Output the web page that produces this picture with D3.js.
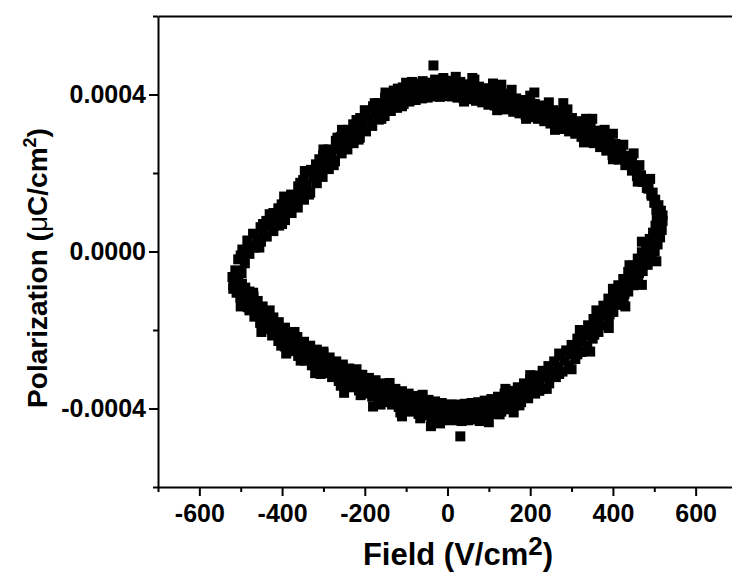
<!DOCTYPE html>
<html>
<head>
<meta charset="utf-8">
<script src="https://cdn.jsdelivr.net/npm/d3@7"></script>
<style>
  html, body { margin: 0; padding: 0; background: #fff; }
  svg { display: block; }
  text { font-family: "Liberation Sans", Arial, sans-serif; font-weight: bold; fill: #000; }
</style>
</head>
<body>
<div id="chart"></div>
<script>
const width = 732;
const height = 575;

// axis ticks
const fieldTicks = [-600, -400, -200, 0, 200, 400, 600];
const fieldMinorTicks = [-700, -500, -300, -100, 100, 300, 500, 700];
const polTicks = [-0.0004, 0, 0.0004];
const polMinorTicks = [-0.0006, -0.0002, 0.0002, 0.0006];

const upperLeft = [
  [-518, -0.85e-4], [-506, -0.72e-4], [-520, -0.65e-4],
  [-513, -0.48e-4], [-498, -0.55e-4], [-506, -0.5e-4],
  [-506, -0.2e-4], [-490, -0.3e-4], [-500, -0.1e-4],
  [-496, 0.05e-4], [-479, -0.06e-4], [-487, 0.0e-4],
  [-484, 0.28e-4], [-467, 0.1e-4], [-476, 0.15e-4],
  [-469, 0.45e-4], [-451, 0.25e-4], [-460, 0.35e-4],
  [-452, 0.62e-4], [-437, 0.38e-4], [-446, 0.7e-4], [-445, 0.5e-4],
  [-438, 0.78e-4], [-421, 0.52e-4], [-430, 0.65e-4],
  [-421, 0.98e-4], [-407, 0.66e-4], [-415, 0.8e-4],
  [-409, 1.1e-4], [-393, 0.8e-4], [-401, 1.2e-4], [-400, 0.95e-4],
  [-390, 1.3e-4], [-377, 0.98e-4], [-385, 1.12e-4],
  [-378, 1.45e-4], [-362, 1.12e-4], [-370, 1.3e-4],
  [-361, 1.66e-4], [-347, 1.32e-4], [-356, 1.75e-4], [-355, 1.48e-4],
  [-349, 1.82e-4], [-332, 1.5e-4], [-340, 1.68e-4],
  [-330, 2.08e-4], [-316, 1.74e-4], [-325, 1.88e-4],
  [-318, 2.22e-4], [-302, 1.9e-4], [-310, 2.35e-4], [-310, 2.08e-4],
  [-301, 2.45e-4], [-287, 2.1e-4], [-295, 2.28e-4],
  [-288, 2.6e-4], [-272, 2.3e-4], [-280, 2.45e-4],
  [-270, 2.82e-4], [-256, 2.5e-4], [-266, 2.9e-4], [-265, 2.62e-4],
  [-258, 2.92e-4], [-242, 2.6e-4], [-250, 2.78e-4],
  [-241, 3.1e-4], [-227, 2.76e-4], [-235, 2.93e-4],
  [-228, 3.24e-4], [-212, 2.9e-4], [-220, 3.35e-4], [-220, 3.08e-4],
  [-211, 3.4e-4], [-197, 3.06e-4], [-205, 3.22e-4],
  [-198, 3.5e-4], [-182, 3.2e-4], [-190, 3.36e-4],
  [-180, 3.7e-4], [-166, 3.36e-4], [-176, 3.78e-4], [-175, 3.5e-4],
  [-168, 3.78e-4], [-152, 3.45e-4], [-160, 3.62e-4],
  [-151, 3.92e-4], [-137, 3.58e-4], [-145, 3.74e-4],
  [-138, 4.02e-4], [-122, 3.66e-4], [-130, 4.1e-4], [-130, 3.85e-4],
  [-120, 4.15e-4], [-106, 3.76e-4], [-115, 3.94e-4],
  [-108, 4.18e-4], [-92, 3.82e-4], [-100, 4.0e-4],
  [-91, 4.25e-4], [-77, 3.86e-4], [-86, 4.32e-4], [-85, 4.05e-4],
  [-78, 4.28e-4], [-62, 3.9e-4], [-70, 4.1e-4],
  [-60, 4.34e-4], [-48, 3.92e-4], [-55, 4.12e-4],
  [-34, 4.74e-4], [-44, 4.3e-4], [-36, 3.95e-4], [-40, 4.12e-4],
  [-30, 4.38e-4], [-18, 3.94e-4], [-25, 4.15e-4],
  [-15, 4.3e-4], [-5, 3.96e-4], [-10, 4.42e-4], [-10, 4.15e-4]
];

const upperRight = [
  [0, 4.35e-4], [10, 3.95e-4], [5, 4.15e-4],
  [16, 4.28e-4], [24, 3.92e-4], [20, 4.45e-4], [20, 4.12e-4],
  [31, 4.32e-4], [39, 3.9e-4], [35, 4.12e-4],
  [46, 4.26e-4], [54, 3.88e-4], [50, 4.08e-4],
  [61, 4.24e-4], [69, 3.84e-4], [65, 4.38e-4], [65, 4.04e-4],
  [76, 4.2e-4], [84, 3.8e-4], [80, 4.0e-4],
  [91, 4.16e-4], [99, 3.74e-4], [95, 3.96e-4],
  [106, 4.1e-4], [114, 3.72e-4], [110, 4.28e-4], [110, 3.92e-4],
  [121, 4.08e-4], [129, 3.66e-4], [125, 3.87e-4],
  [136, 4.02e-4], [144, 3.62e-4], [140, 3.82e-4],
  [151, 3.98e-4], [159, 3.56e-4], [155, 4.12e-4], [155, 3.77e-4],
  [166, 3.9e-4], [174, 3.52e-4], [170, 3.72e-4],
  [181, 3.86e-4], [189, 3.48e-4], [185, 3.67e-4],
  [196, 3.82e-4], [204, 3.42e-4], [200, 3.97e-4], [200, 3.62e-4],
  [211, 3.76e-4], [219, 3.38e-4], [215, 3.57e-4],
  [226, 3.72e-4], [234, 3.32e-4], [230, 3.52e-4],
  [241, 3.66e-4], [249, 3.26e-4], [245, 3.8e-4], [245, 3.46e-4],
  [256, 3.6e-4], [264, 3.2e-4], [260, 3.4e-4],
  [271, 3.54e-4], [279, 3.12e-4], [275, 3.34e-4],
  [286, 3.48e-4], [294, 3.06e-4], [290, 3.62e-4], [290, 3.27e-4],
  [301, 3.4e-4], [309, 3.0e-4], [305, 3.2e-4],
  [316, 3.32e-4], [324, 2.92e-4], [320, 3.12e-4],
  [331, 3.25e-4], [339, 2.84e-4], [335, 3.38e-4], [335, 3.04e-4],
  [346, 3.16e-4], [354, 2.76e-4], [350, 2.96e-4],
  [361, 3.08e-4], [369, 2.66e-4], [365, 2.87e-4],
  [376, 2.97e-4], [384, 2.57e-4], [380, 3.1e-4], [380, 2.77e-4],
  [391, 2.86e-4], [399, 2.46e-4], [395, 2.66e-4],
  [406, 2.74e-4], [414, 2.34e-4], [410, 2.54e-4],
  [420, 2.6e-4], [430, 2.2e-4], [425, 2.72e-4], [425, 2.4e-4],
  [434, 2.44e-4], [446, 2.06e-4], [440, 2.25e-4],
  [446, 2.28e-4], [458, 1.92e-4], [452, 2.1e-4],
  [457, 2.1e-4], [471, 1.78e-4], [464, 2.2e-4], [464, 1.94e-4],
  [468, 1.94e-4], [482, 1.62e-4], [475, 1.78e-4],
  [477, 1.78e-4], [493, 1.46e-4], [485, 1.62e-4],
  [486, 1.6e-4], [502, 1.32e-4], [496, 1.5e-4], [494, 1.46e-4],
  [494, 1.42e-4], [510, 1.18e-4], [502, 1.3e-4],
  [500, 1.24e-4], [516, 1.04e-4], [508, 1.14e-4],
  [505, 1.06e-4], [520, 0.92e-4], [512, 0.98e-4]
];

const lowerRight = [
  [520, 0.78e-4], [506, 0.82e-4], [513, 0.8e-4],
  [518, 0.55e-4], [503, 0.66e-4], [512, 0.5e-4], [510, 0.6e-4],
  [514, 0.36e-4], [497, 0.48e-4], [505, 0.42e-4],
  [508, 0.18e-4], [489, 0.32e-4], [498, 0.25e-4],
  [501, 0.0e-4], [480, 0.15e-4], [492, -0.02e-4], [490, 0.08e-4],
  [493, -0.16e-4], [470, -0.02e-4], [481, -0.09e-4],
  [484, -0.34e-4], [460, -0.18e-4], [471, -0.26e-4],
  [472, -0.5e-4], [448, -0.36e-4], [463, -0.55e-4], [460, -0.43e-4],
  [461, -0.68e-4], [437, -0.52e-4], [449, -0.6e-4],
  [450, -0.86e-4], [425, -0.7e-4], [437, -0.77e-4],
  [437, -1.02e-4], [413, -0.86e-4], [428, -1.08e-4], [425, -0.94e-4],
  [426, -1.2e-4], [401, -1.04e-4], [413, -1.11e-4],
  [414, -1.36e-4], [389, -1.2e-4], [401, -1.28e-4],
  [401, -1.54e-4], [377, -1.38e-4], [392, -1.6e-4], [389, -1.45e-4],
  [390, -1.7e-4], [365, -1.54e-4], [377, -1.62e-4],
  [377, -1.88e-4], [353, -1.72e-4], [365, -1.79e-4],
  [365, -2.05e-4], [340, -1.88e-4], [355, -2.12e-4], [352, -1.96e-4],
  [351, -2.22e-4], [327, -2.06e-4], [339, -2.13e-4],
  [338, -2.4e-4], [314, -2.22e-4], [326, -2.3e-4],
  [324, -2.56e-4], [300, -2.38e-4], [314, -2.62e-4], [312, -2.46e-4],
  [309, -2.74e-4], [287, -2.52e-4], [298, -2.62e-4],
  [293, -2.9e-4], [273, -2.66e-4], [283, -2.78e-4],
  [278, -3.06e-4], [258, -2.8e-4], [270, -3.12e-4], [268, -2.93e-4],
  [262, -3.2e-4], [244, -2.92e-4], [253, -3.07e-4],
  [246, -3.36e-4], [230, -3.04e-4], [238, -3.2e-4],
  [229, -3.5e-4], [215, -3.16e-4], [222, -3.55e-4], [222, -3.32e-4],
  [212, -3.62e-4], [200, -3.26e-4], [206, -3.44e-4],
  [195, -3.74e-4], [185, -3.36e-4], [190, -3.55e-4],
  [178, -3.84e-4], [170, -3.46e-4], [174, -3.92e-4], [174, -3.65e-4],
  [162, -3.92e-4], [154, -3.55e-4], [158, -3.74e-4],
  [146, -4.02e-4], [138, -3.62e-4], [142, -3.82e-4],
  [130, -4.08e-4], [122, -3.7e-4], [126, -4.15e-4], [126, -3.89e-4],
  [114, -4.14e-4], [106, -3.76e-4], [110, -3.95e-4],
  [98, -4.2e-4], [90, -3.8e-4], [94, -4.0e-4],
  [82, -4.24e-4], [74, -3.84e-4], [78, -4.32e-4], [78, -4.04e-4],
  [66, -4.28e-4], [58, -3.86e-4], [62, -4.07e-4],
  [50, -4.3e-4], [42, -3.88e-4], [46, -4.09e-4],
  [31, -4.71e-4], [34, -4.32e-4], [26, -3.9e-4], [30, -4.12e-4],
  [18, -4.3e-4], [10, -3.9e-4], [14, -4.1e-4]
];

const lowerLeft = [
  [-6, -4.3e-4], [2, -3.9e-4], [-2, -4.09e-4],
  [-22, -4.26e-4], [-14, -3.86e-4], [-18, -4.38e-4], [-18, -4.06e-4],
  [-38, -4.22e-4], [-30, -3.82e-4], [-34, -4.02e-4],
  [-54, -4.18e-4], [-46, -3.78e-4], [-50, -3.98e-4],
  [-70, -4.14e-4], [-62, -3.72e-4], [-66, -4.25e-4], [-66, -3.93e-4],
  [-86, -4.08e-4], [-78, -3.68e-4], [-82, -3.88e-4],
  [-102, -4.02e-4], [-94, -3.62e-4], [-98, -3.82e-4],
  [-118, -3.96e-4], [-110, -3.56e-4], [-114, -4.1e-4], [-114, -3.76e-4],
  [-134, -3.9e-4], [-126, -3.5e-4], [-130, -3.7e-4],
  [-150, -3.84e-4], [-142, -3.42e-4], [-146, -3.63e-4],
  [-166, -3.76e-4], [-158, -3.36e-4], [-162, -3.9e-4], [-162, -3.56e-4],
  [-182, -3.7e-4], [-174, -3.28e-4], [-178, -3.49e-4],
  [-198, -3.62e-4], [-190, -3.22e-4], [-194, -3.42e-4],
  [-214, -3.54e-4], [-206, -3.14e-4], [-210, -3.66e-4], [-210, -3.34e-4],
  [-230, -3.46e-4], [-222, -3.06e-4], [-226, -3.26e-4],
  [-246, -3.38e-4], [-238, -2.98e-4], [-242, -3.18e-4],
  [-263, -3.3e-4], [-253, -2.88e-4], [-258, -3.42e-4], [-258, -3.09e-4],
  [-279, -3.2e-4], [-269, -2.8e-4], [-274, -3.0e-4],
  [-295, -3.1e-4], [-285, -2.7e-4], [-290, -2.9e-4],
  [-312, -3.0e-4], [-300, -2.6e-4], [-307, -3.12e-4], [-306, -2.8e-4],
  [-328, -2.9e-4], [-316, -2.5e-4], [-322, -2.7e-4],
  [-344, -2.78e-4], [-332, -2.4e-4], [-338, -2.59e-4],
  [-361, -2.66e-4], [-347, -2.3e-4], [-355, -2.78e-4], [-354, -2.48e-4],
  [-377, -2.54e-4], [-363, -2.18e-4], [-370, -2.36e-4],
  [-393, -2.42e-4], [-379, -2.06e-4], [-386, -2.24e-4],
  [-409, -2.28e-4], [-393, -1.94e-4], [-402, -2.4e-4], [-401, -2.11e-4],
  [-424, -2.14e-4], [-408, -1.8e-4], [-416, -1.97e-4],
  [-439, -1.98e-4], [-421, -1.68e-4], [-430, -1.83e-4],
  [-453, -1.82e-4], [-435, -1.54e-4], [-446, -1.95e-4], [-444, -1.68e-4],
  [-467, -1.66e-4], [-447, -1.4e-4], [-457, -1.53e-4],
  [-479, -1.5e-4], [-459, -1.26e-4], [-469, -1.38e-4],
  [-491, -1.34e-4], [-469, -1.14e-4], [-483, -1.42e-4], [-480, -1.24e-4],
  [-501, -1.18e-4], [-479, -1.02e-4], [-490, -1.1e-4],
  [-510, -1.05e-4], [-489, -0.92e-4], [-499, -0.98e-4],
  [-518, -0.95e-4], [-497, -0.82e-4], [-507, -0.88e-4]
];

// scattered points sticking out of the band edges
const strayPoints = [
  [-470, 0.45e-4], [-430, 0.95e-4], [-395, 1.4e-4], [-345, 2.05e-4], [-300, 2.6e-4],
  [-255, 3.1e-4], [-200, 3.6e-4], [-150, 4.05e-4], [-100, 4.3e-4],
  [-455, 0.1e-4], [-400, 0.7e-4], [-335, 1.45e-4], [-275, 2.2e-4], [-215, 2.85e-4],
  [-160, 3.38e-4], [-110, 3.7e-4],
  [60, 4.42e-4], [130, 4.25e-4], [210, 4.05e-4], [280, 3.78e-4], [350, 3.38e-4],
  [400, 3.0e-4], [450, 2.5e-4], [490, 1.85e-4],
  [40, 3.82e-4], [120, 3.6e-4], [190, 3.38e-4], [260, 3.1e-4], [330, 2.78e-4],
  [400, 2.35e-4], [460, 1.78e-4],
  [505, -0.25e-4], [470, -0.85e-4], [430, -1.4e-4], [390, -1.95e-4], [345, -2.55e-4],
  [300, -3.0e-4], [240, -3.5e-4], [160, -4.1e-4], [100, -4.35e-4],
  [470, 0.25e-4], [440, -0.35e-4], [400, -0.95e-4], [360, -1.5e-4], [320, -2.0e-4],
  [270, -2.6e-4], [200, -3.15e-4], [140, -3.5e-4],
  [-40, -4.45e-4], [-110, -4.2e-4], [-180, -3.95e-4], [-250, -3.6e-4], [-320, -3.1e-4],
  [-390, -2.6e-4], [-450, -2.05e-4], [-500, -1.4e-4],
  [-60, -3.65e-4], [-140, -3.35e-4], [-220, -3.0e-4], [-300, -2.55e-4], [-370, -2.05e-4],
  [-430, -1.5e-4], [-470, -1.05e-4]
];

const loop = upperLeft.concat(upperRight, lowerRight, lowerLeft, strayPoints);

const svg = d3
  .select("#chart")
  .append("svg")
  .attr("width", width)
  .attr("height", height);

const x = d3.scaleLinear().domain([-700, 700]).range([158, 737]);
const y = d3.scaleLinear().domain([-0.0006, 0.0006]).range([487, 16]);

const markerSize = 10;

// data markers
svg
  .append("g")
  .selectAll("rect")
  .data(loop)
  .enter()
  .append("rect")
  .attr("x", (d) => x(d[0]) - markerSize / 2)
  .attr("y", (d) => y(d[1]) - markerSize / 2)
  .attr("width", markerSize)
  .attr("height", markerSize)
  .attr("fill", "#000");

// bottom axis
svg
  .append("g")
  .attr("transform", "translate(0," + y(-0.0006) + ")")
  .call(
    d3
      .axisBottom(x)
      .tickValues(fieldTicks)
      .tickSize(9)
      .tickSizeOuter(0)
      .tickPadding(8)
      .tickFormat((d) => String(d))
  );

svg
  .append("g")
  .attr("transform", "translate(0," + y(-0.0006) + ")")
  .call(
    d3
      .axisBottom(x)
      .tickValues(fieldMinorTicks)
      .tickSize(5)
      .tickSizeOuter(0)
      .tickFormat("")
  )
  .select(".domain")
  .remove();

// left axis
svg
  .append("g")
  .attr("transform", "translate(" + x(-700) + ",0)")
  .call(
    d3
      .axisLeft(y)
      .tickValues(polTicks)
      .tickSize(9)
      .tickSizeOuter(0)
      .tickPadding(3)
      .tickFormat((d) => d.toFixed(4))
  );

svg
  .append("g")
  .attr("transform", "translate(" + x(-700) + ",0)")
  .call(
    d3
      .axisLeft(y)
      .tickValues(polMinorTicks)
      .tickSize(5)
      .tickSizeOuter(0)
      .tickFormat("")
  )
  .select(".domain")
  .remove();

// top frame line
svg
  .append("g")
  .attr("transform", "translate(0," + y(0.0006) + ")")
  .call(d3.axisTop(x).tickValues([]).tickSizeOuter(0));

svg.selectAll(".domain, .tick line").attr("stroke", "#000").attr("stroke-width", 2);
svg
  .selectAll(".tick text")
  .style("font-size", "25px")
  .style("font-family", "'Liberation Sans', Arial, sans-serif")
  .style("font-weight", "bold");

// axis titles
const xTitle = svg
  .append("text")
  .attr("x", 458)
  .attr("y", 565)
  .attr("text-anchor", "middle")
  .style("font-size", "31px");
xTitle.append("tspan").text("Field (V/cm");
xTitle.append("tspan").attr("dy", -10).style("font-size", "26px").text("2");
xTitle.append("tspan").attr("dy", 10).text(")");

const yTitle = svg
  .append("text")
  .attr("transform", "translate(47,268) rotate(-90)")
  .attr("text-anchor", "middle")
  .style("font-size", "28px");
yTitle.append("tspan").text("Polarization (");
yTitle.append("tspan").style("font-weight", "normal").text("\u03bc");
yTitle.append("tspan").text("C/cm");
yTitle.append("tspan").attr("dy", -11).style("font-size", "18px").text("2");
yTitle.append("tspan").attr("dy", 11).text(")");
</script>
</body>
</html>
